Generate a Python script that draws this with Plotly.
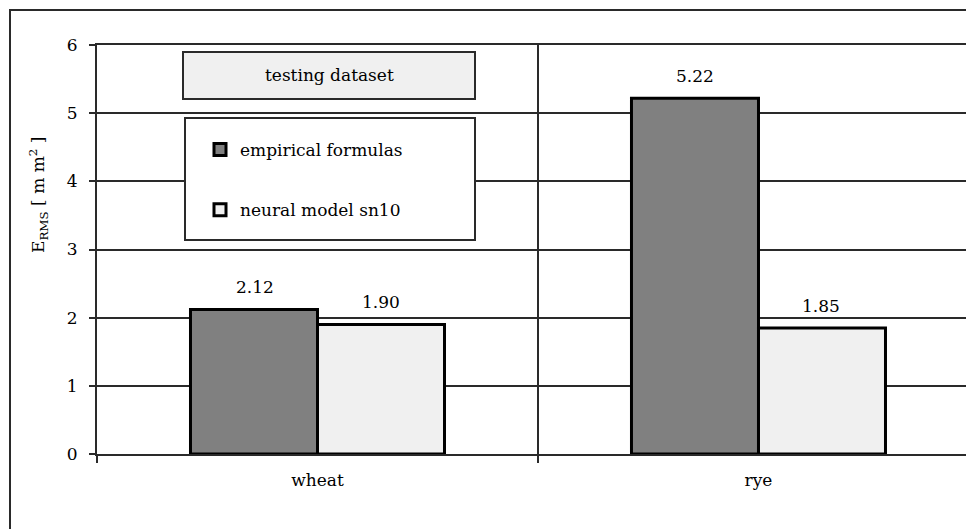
import plotly.graph_objects as go

categories = ["wheat", "rye"]
series_names = ["empirical formulas", "neural model sn10"]
empirical = [2.12, 5.22]
neural = [1.90, 1.85]
y_ticks = [0, 1, 2, 3, 4, 5, 6]

FONT = "DejaVu Serif, serif"
DARK = "#2a2a2a"
FS = 17

fig = go.Figure()
fig.add_trace(go.Bar(
    x=categories, y=empirical, name=series_names[0], legendgroup="a",
    marker=dict(color="#808080", line=dict(color="#000000", width=3)),
))
fig.add_trace(go.Bar(
    x=categories, y=neural, name=series_names[1], legendgroup="b",
    marker=dict(color="#f0f0f0", line=dict(color="#000000", width=3)),
))

# value labels
annotations = []
for vals, shift in ((empirical, -63), (neural, 63)):
    for c, v in zip(categories, vals):
        annotations.append(dict(
            x=c, y=v, xref="x", yref="y", text=f"{v:.2f}", showarrow=False,
            xshift=shift, yshift=10, yanchor="bottom",
            font=dict(family=FONT, size=FS, color="#000000"),
        ))

# title box text
annotations.append(dict(
    x=(329 - 97) / 877, y=(454 - 75) / 409, xref="paper", yref="paper",
    text="testing dataset", showarrow=False, xanchor="center", yanchor="middle",
    font=dict(family=FONT, size=FS, color="#000000"),
))

# y-axis title
annotations.append(dict(
    x=(38 - 97) / 877, y=(454 - 195) / 409, xref="paper", yref="paper",
    text="E<sub>RMS</sub> [ m m<sup>2</sup> ]", showarrow=False, textangle=-90,
    xanchor="center", yanchor="middle",
    font=dict(family=FONT, size=17, color="#000000"),
))

shapes = [
    # outer frame
    dict(type="rect", xref="paper", yref="paper",
         x0=(10 - 97) / 877, x1=1.1, y0=-0.3, y1=(454 - 10) / 409,
         line=dict(color=DARK, width=2), fillcolor="rgba(0,0,0,0)", layer="below"),
    # testing dataset box
    dict(type="rect", xref="paper", yref="paper",
         x0=(183 - 97) / 877, x1=(475 - 97) / 877,
         y0=(454 - 99) / 409, y1=(454 - 52) / 409,
         line=dict(color=DARK, width=2), fillcolor="#f0f0f0", layer="above"),
    # legend box
    dict(type="rect", xref="paper", yref="paper",
         x0=(185 - 97) / 877, x1=(475 - 97) / 877,
         y0=(454 - 240) / 409, y1=(454 - 118) / 409,
         line=dict(color=DARK, width=2), fillcolor="#ffffff", layer="above"),
]

fig.update_layout(
    width=966, height=521,
    margin=dict(l=89, r=0, t=37, b=75),
    paper_bgcolor="#ffffff", plot_bgcolor="#ffffff",
    font=dict(family=FONT, size=FS, color="#000000"),
    barmode="group", bargap=0.424, bargroupgap=0,
    showlegend=True,
    legend=dict(
        x=(200 - 97) / 877, y=(454 - 132) / 409, xanchor="left", yanchor="top",
        bgcolor="rgba(0,0,0,0)", borderwidth=0, tracegroupgap=35,
        traceorder="grouped", font=dict(family=FONT, size=FS, color="#000000"),
    ),
    annotations=annotations,
    shapes=shapes,
    xaxis=dict(
        type="category", range=[-0.5, 1.4887], tickson="boundaries",
        ticks="outside", ticklen=7, tickwidth=2, tickcolor=DARK,
        showgrid=True, gridcolor=DARK, gridwidth=2,
        showline=True, linecolor=DARK, linewidth=2, mirror=True,
        tickfont=dict(family=FONT, size=FS), ticklabelstandoff=10,
    ),
    yaxis=dict(
        range=[0, 6], tickvals=y_ticks, ticks="outside", ticklen=6,
        tickwidth=2, tickcolor=DARK,
        showgrid=True, gridcolor=DARK, gridwidth=2, zeroline=False,
        showline=True, linecolor=DARK, linewidth=2,
        tickfont=dict(family=FONT, size=FS), ticklabelstandoff=8,
    ),
)

fig.write_html("out.html")
